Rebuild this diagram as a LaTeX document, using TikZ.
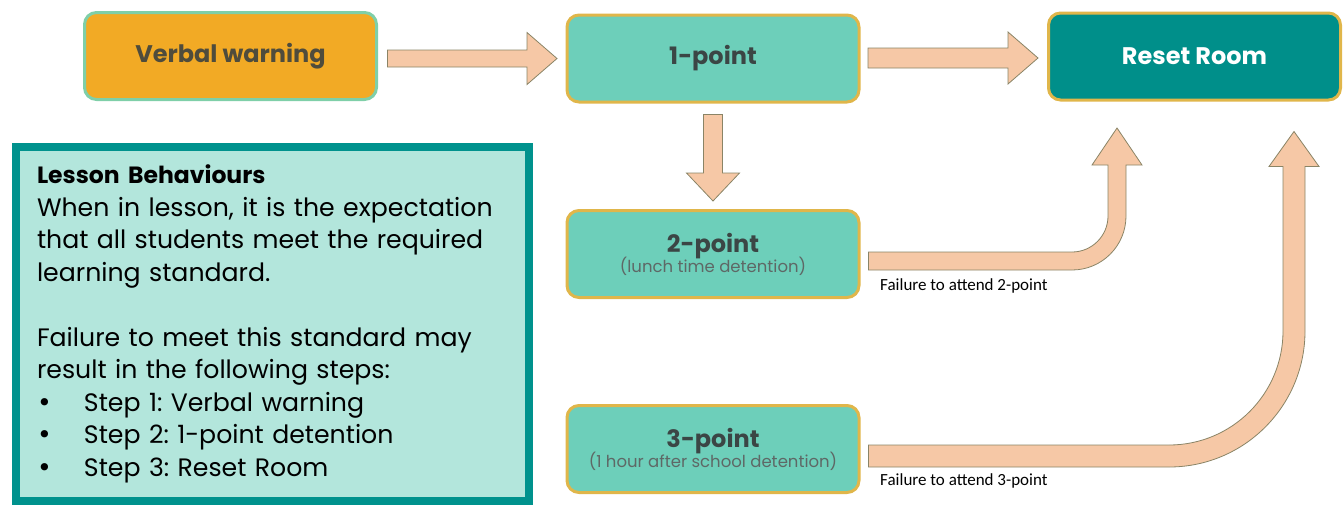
\documentclass[tikz,border=0pt]{standalone}
\usepackage{fontspec}
\setmainfont{Poppins}
\newfontfamily\notefont{Carlito}
\newfontfamily\dotfont{DejaVu Sans}
\usetikzlibrary{calc}

\definecolor{warnfill}{HTML}{F2AA25}
\definecolor{warnedge}{HTML}{7FCFA8}
\definecolor{warntext}{HTML}{4F4C3C}
\definecolor{stagefill}{HTML}{6DCFBA}
\definecolor{stageedge}{HTML}{E0B64A}
\definecolor{stagetext}{HTML}{3B4645}
\definecolor{subtext}{HTML}{5E6866}
\definecolor{resetfill}{HTML}{008F8A}
\definecolor{arrowfill}{HTML}{F6C8A6}
\definecolor{arrowedge}{HTML}{8A8466}
\definecolor{infoedge}{HTML}{00928D}
\definecolor{infofill}{HTML}{B3E6DC}

\newcommand{\subfont}{\mdseries\fontsize{16.5}{18}\selectfont\color{subtext}}
\newcommand{\stepdot}{\makebox[47pt][l]{\dotfont\fontsize{25}{30}\selectfont •}}

\tikzset{
  stage/.style={rounded corners=12pt,line width=3pt,draw=stageedge,fill=stagefill,
    minimum width=292pt,minimum height=87pt,align=center,text=stagetext,
    font=\bfseries\fontsize{24}{26}\selectfont},
  blockarrow/.style={fill=arrowfill,draw=arrowedge,line width=0.8pt},
  failnote/.style={font=\notefont\fontsize{17}{19}\selectfont,anchor=north west,inner sep=0pt},
  infobox/.style={draw=infoedge,fill=infofill,line width=8pt,minimum width=513pt,
    minimum height=354pt,inner xsep=21pt,text width=471pt,align=left,
    font=\frenchspacing\fontsize{25.2}{32.5}\selectfont}
}

% straight block arrows: start, end, half shaft, half head, head length
\newcommand{\harrow}[5]{\draw[blockarrow] ($(#1)+(0,-#3)$) -- ($(#2)+(-#5,-#3)$)
  -- ($(#2)+(-#5,-#4)$) -- (#2) -- ($(#2)+(-#5,#4)$) -- ($(#2)+(-#5,#3)$)
  -- ($(#1)+(0,#3)$) -- cycle;}
\newcommand{\varrow}[5]{\draw[blockarrow] ($(#1)+(-#3,0)$) -- ($(#2)+(-#3,-#5)$)
  -- ($(#2)+(-#4,-#5)$) -- (#2) -- ($(#2)+(#4,-#5)$) -- ($(#2)+(#3,-#5)$)
  -- ($(#1)+(#3,0)$) -- cycle;}
% bent block arrow: start, tip, half shaft, bend radius, half head, head length
\newcommand{\bentarrow}[6]{\draw[blockarrow] ($(#1)+(0,-#3)$)
  -- ($(#1 -| #2)+(-#4,-#3)$) arc[start angle=90,end angle=0,radius=#4-#3]
  -- ($(#2)+(-#3,#6)$) -- ($(#2)+(-#5,#6)$) -- (#2) -- ($(#2)+(#5,#6)$)
  -- ($(#2)+(#3,#6)$) -- ($(#1 -| #2)+(#3,-#4)$) arc[start angle=0,end angle=90,radius=#4+#3]
  -- ($(#1)+(0,#3)$) -- cycle;}

\begin{document}
\begin{tikzpicture}[x=1pt,y=-1pt]
\useasboundingbox (0,0) rectangle (1343,507);

% stages
\node[stage,fill=warnfill,draw=warnedge,text=warntext] (warn) at (230.5,56) {Verbal warning};
\node[stage] (one) at (713,58.5) {1-point};
\node[stage,fill=resetfill,text=white] (reset) at (1194.5,56.5) {Reset Room};
\node[stage] (two) at (713,254) {2-point\\[-6pt]{\subfont (lunch time detention)}};
\node[stage] (three) at (713,449) {3-point\\[-6pt]{\subfont (1 hour after school detention)}};

% arrows between stages
\coordinate (a1s) at ($(warn.east)+(9.5,2.5)$);
\coordinate (a1e) at ($(a1s -| one.west)+(-8.5,0)$);
\harrow{a1s}{a1e}{8.5}{26}{30}
\coordinate (a2s) at ($(one.east)+(7.5,-0.5)$);
\coordinate (a2e) at ($(a2s -| reset.west)+(-9,0)$);
\harrow{a2s}{a2e}{10}{26}{30}
\coordinate (a3s) at ($(one.south)+(0,11)$);
\coordinate (a3e) at ($(two.north)+(0,-8)$);
\varrow{a3s}{a3e}{9.5}{26.5}{28}
\coordinate (a4s) at ($(two.east)+(8,7)$);
\coordinate (a4e) at ($(reset.south west)+(70,26.5)$);
\bentarrow{a4s}{a4e}{9}{45}{25}{37}
\coordinate (a5s) at ($(three.east)+(8,7)$);
\coordinate (a5e) at ($(reset.south east)+(-48,30)$);
\bentarrow{a5s}{a5e}{11}{125}{25}{35}

\node[failnote] (fail2) at ($(two.east)+(19.5,24.5)$) {Failure to attend 2-point};
\node[failnote] (fail3) at ($(three.east)+(19.5,24.5)$) {Failure to attend 3-point};

% lesson rules
\node[infobox] (rules) at (272.5,324) {{\bfseries\fontsize{23.5}{32.5}\selectfont Lesson Behaviours}\\
When in lesson, it is the expectation\\
that all students meet the required\\
learning standard.\\[32.5pt]
Failure to meet this standard may\\
result in the following steps:\\
\stepdot Step 1: Verbal warning\\
\stepdot Step 2: 1-point detention\\
\stepdot Step 3: Reset Room};
\end{tikzpicture}
\end{document}
